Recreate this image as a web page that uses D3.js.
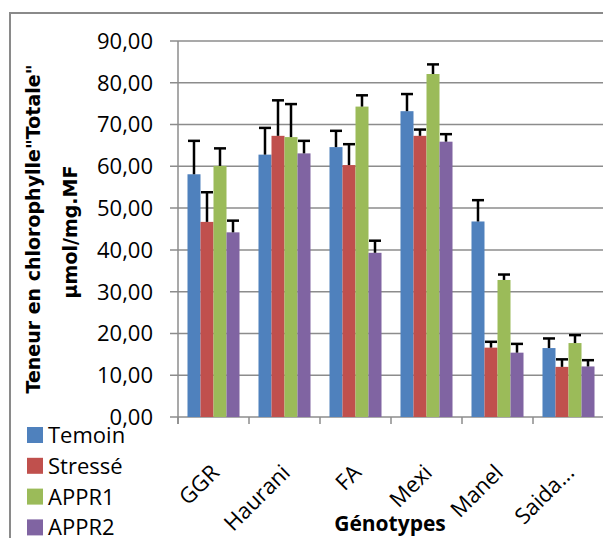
<!DOCTYPE html>
<html>
<head>
<meta charset="utf-8">
<script src="https://cdn.jsdelivr.net/npm/d3@7"></script>
<style>
  body { margin: 0; background: #fff; }
  svg { display: block; }
</style>
</head>
<body>
<div id="chart"></div>
<script>
var genotypes = ["GGR", "Haurani", "FA", "Mexi", "Manel", "Saida..."]
var seriesNames = ["Temoin", "Stressé", "APPR1", "APPR2"]
var seriesColors = ["#4F81BD", "#C0504D", "#9BBB59", "#8064A2"]

// mean values per series, one per genotype
var temoin = [58.1, 62.8, 64.6, 73.2, 46.8, 16.5]
var stresse = [46.7, 67.3, 60.3, 67.3, 16.6, 12.0]
var appr1 = [60.1, 67.0, 74.3, 82.1, 32.8, 17.7]
var appr2 = [44.2, 63.1, 39.3, 65.9, 15.4, 12.1]

// error bar size (upper side only)
var temoinErr = [8.0, 6.4, 3.9, 4.1, 5.1, 2.3]
var stresseErr = [7.1, 8.5, 5.0, 1.5, 1.4, 1.8]
var appr1Err = [4.2, 7.9, 2.7, 2.3, 1.3, 1.9]
var appr2Err = [2.8, 3.0, 2.9, 1.8, 2.1, 1.5]

var yTicks = [0, 10, 20, 30, 40, 50, 60, 70, 80, 90]

var values = [temoin, stresse, appr1, appr2]
var errors = [temoinErr, stresseErr, appr1Err, appr2Err]

var width = 603, height = 538
var plot = { left: 178, right: 604, top: 41, bottom: 417 }

var svg = d3.select("#chart")
  .append("svg")
    .attr("width", width)
    .attr("height", height)

// chart frame
svg.append("path")
  .attr("d", "M10," + height + "V13H" + (width + 5))
  .attr("fill", "none")
  .attr("stroke", "#8a8a8a")
  .attr("stroke-width", 2)

var y = d3.scaleLinear()
  .domain([0, 90])
  .range([plot.bottom, plot.top])

var x0 = d3.scaleBand()
  .domain(genotypes)
  .range([plot.left, plot.right])
  .padding(0)

var x1 = d3.scaleBand()
  .domain(seriesNames)
  .range([0, x0.bandwidth()])
  .paddingInner(0)
  .paddingOuter(0.73)

// horizontal gridlines + y ticks
var yAxis = svg.append("g")
yAxis.selectAll("line.grid")
  .data(yTicks)
  .enter()
  .append("line")
    .attr("class", "grid")
    .attr("x1", plot.left - 8)
    .attr("x2", plot.right)
    .attr("y1", function(d) { return y(d) })
    .attr("y2", function(d) { return y(d) })
    .attr("stroke", "#8c8c8c")
    .attr("stroke-width", 1.5)

yAxis.selectAll("text")
  .data(yTicks)
  .enter()
  .append("text")
    .attr("x", plot.left - 25)
    .attr("y", function(d) { return y(d) })
    .attr("dy", "0.36em")
    .attr("text-anchor", "end")
    .style("font-family", "'Open Sans', sans-serif")
    .style("font-size", "22px")
    .style("fill", "#000")
    .text(function(d) { return d3.format(".2f")(d).replace(".", ",") })

// y axis line
svg.append("line")
  .attr("x1", plot.left)
  .attr("x2", plot.left)
  .attr("y1", plot.top)
  .attr("y2", plot.bottom + 7)
  .attr("stroke", "#8c8c8c")
  .attr("stroke-width", 1.5)

// x axis ticks between categories
var bounds = genotypes.map(function(g) { return x0(g) }).concat([plot.right])
svg.append("g")
  .selectAll("line")
  .data(bounds)
  .enter()
  .append("line")
    .attr("x1", function(d) { return d })
    .attr("x2", function(d) { return d })
    .attr("y1", plot.bottom)
    .attr("y2", plot.bottom + 7)
    .attr("stroke", "#8c8c8c")
    .attr("stroke-width", 1.5)

// bars
var groups = svg.append("g")
  .selectAll("g")
  .data(seriesNames)
  .enter()
  .append("g")
    .attr("fill", function(d, i) { return seriesColors[i] })

groups.selectAll("rect")
  .data(function(s, i) {
    return genotypes.map(function(g, j) {
      return { g: g, s: s, v: values[i][j], e: errors[i][j] }
    })
  })
  .enter()
  .append("rect")
    .attr("x", function(d) { return x0(d.g) + x1(d.s) })
    .attr("y", function(d) { return y(d.v) })
    .attr("width", x1.bandwidth())
    .attr("height", function(d) { return y(0) - y(d.v) })

// error bars
var errG = svg.append("g")
  .attr("stroke", "#000")
  .attr("stroke-width", 2.5)

groups.each(function(s, i) {
  genotypes.forEach(function(g, j) {
    var cx = x0(g) + x1(s) + x1.bandwidth() / 2
    var top = y(values[i][j] + errors[i][j])
    errG.append("line")
      .attr("x1", cx).attr("x2", cx)
      .attr("y1", y(values[i][j])).attr("y2", top)
    errG.append("line")
      .attr("x1", cx - 6).attr("x2", cx + 6)
      .attr("y1", top).attr("y2", top)
  })
})

// x category labels
svg.append("g")
  .selectAll("text")
  .data(genotypes)
  .enter()
  .append("text")
    .attr("transform", function(d) {
      return "translate(" + (x0(d) + x0.bandwidth() / 2 + 7) + "," + 474 + ") rotate(-45)"
    })
    .attr("text-anchor", "end")
    .style("font-family", "'Open Sans', sans-serif")
    .style("font-size", "22px")
    .text(function(d) { return d })

// x axis title
svg.append("text")
  .attr("x", 390)
  .attr("y", 531)
  .attr("text-anchor", "middle")
  .style("font-family", "'Open Sans', sans-serif")
  .style("font-size", "21px")
  .style("font-weight", "bold")
  .text("Génotypes")

// y axis title (two lines)
var yTitle = ["Teneur en chlorophylle\"Totale\"", "µmol/mg.MF"]
svg.append("g")
  .selectAll("text")
  .data(yTitle)
  .enter()
  .append("text")
    .attr("transform", function(d, i) {
      return "translate(" + (40 + i * 37) + "," + (229 + i * 3) + ") rotate(-90)"
    })
    .attr("text-anchor", "middle")
    .style("font-family", "'DejaVu Sans', sans-serif")
    .style("font-size", "19px")
    .style("font-weight", "bold")
    .text(function(d) { return d })

// legend
var legend = svg.append("g")
  .selectAll("g")
  .data(seriesNames)
  .enter()
  .append("g")
    .attr("transform", function(d, i) { return "translate(27," + (435 + i * 30.8) + ")" })

legend.append("rect")
  .attr("x", 0)
  .attr("y", -8)
  .attr("width", 16)
  .attr("height", 16)
  .attr("fill", function(d, i) { return seriesColors[i] })

legend.append("text")
  .attr("x", 21)
  .attr("y", 0)
  .attr("dy", "0.36em")
  .style("font-family", "'Open Sans', sans-serif")
  .style("font-size", "22px")
  .text(function(d) { return d })
</script>
</body>
</html>
